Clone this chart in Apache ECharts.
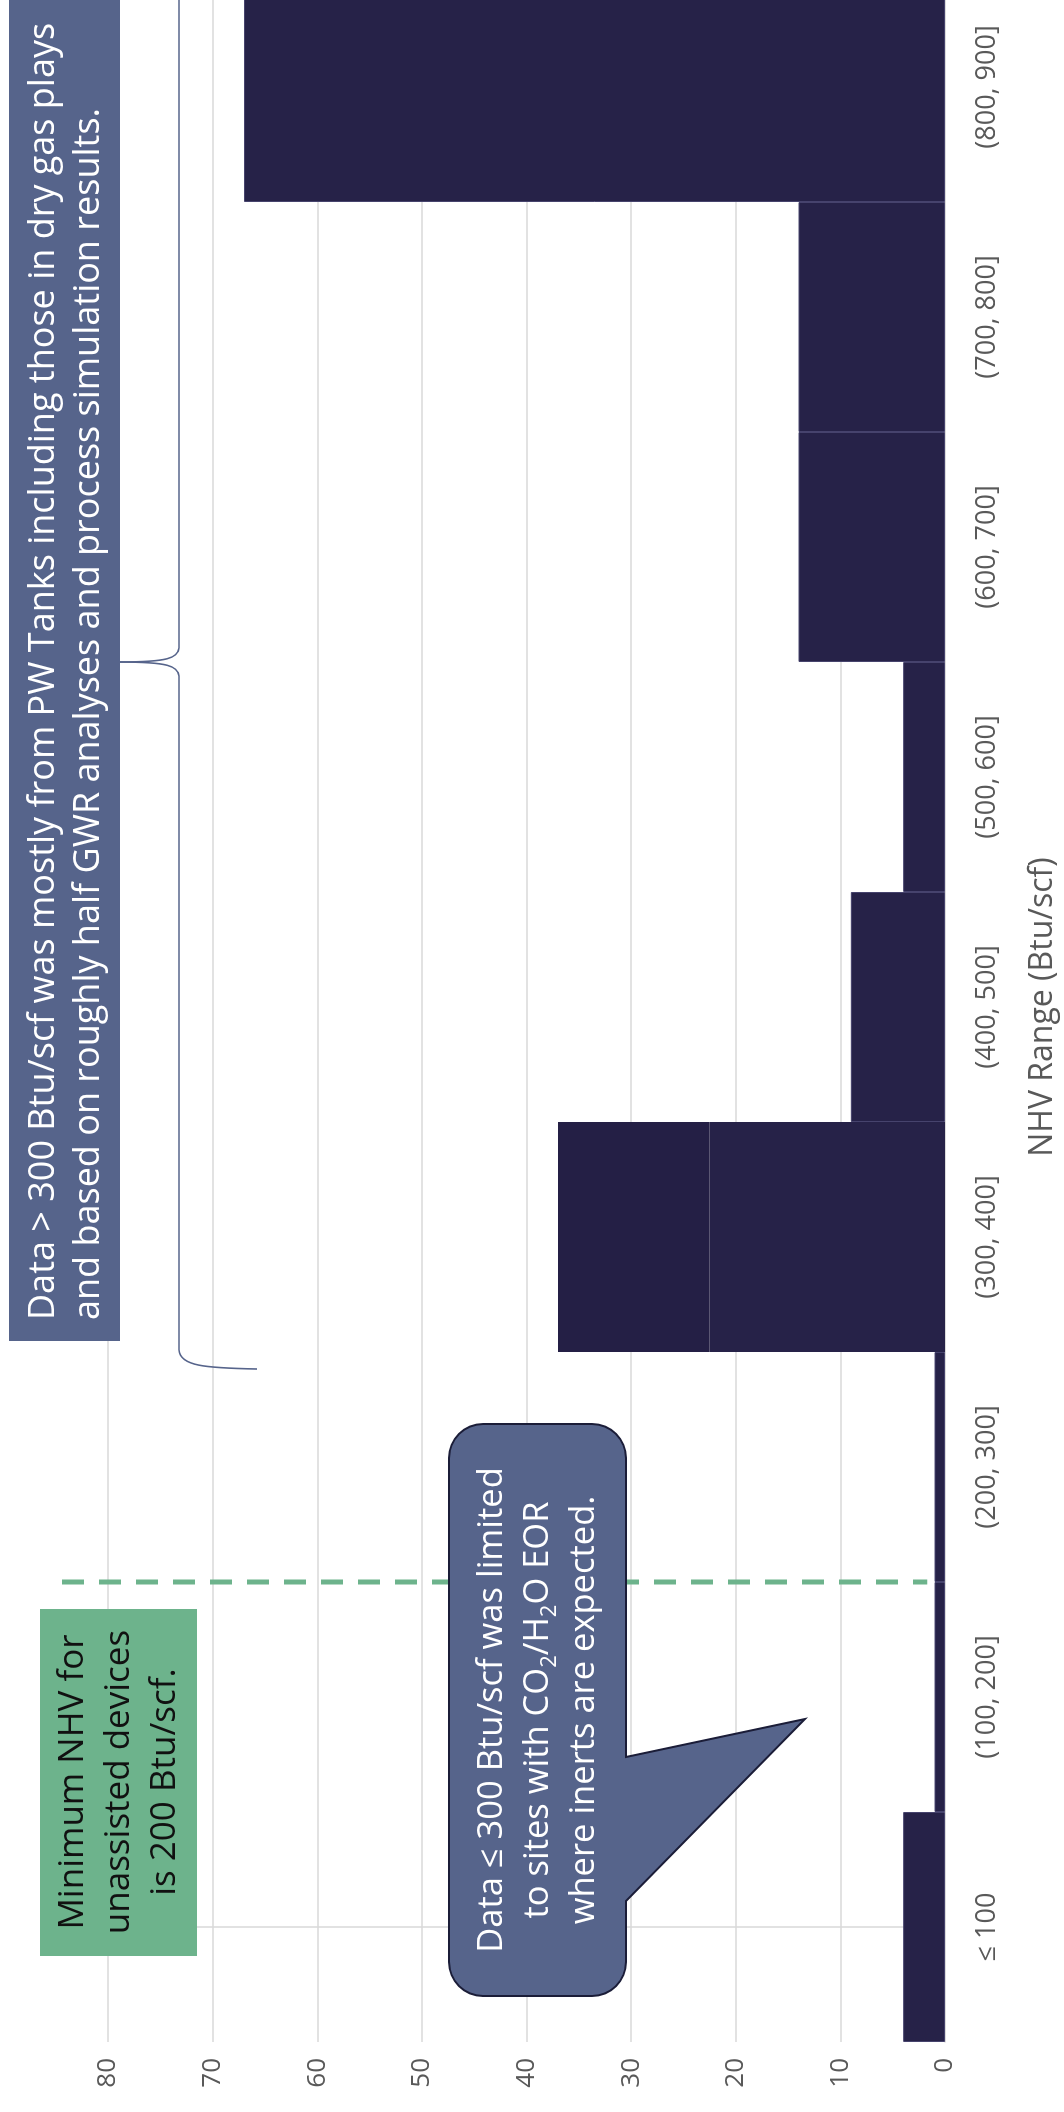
<!DOCTYPE html>
<html>
<head>
<meta charset="utf-8">
<title>NHV Range</title>
<script src="https://cdn.jsdelivr.net/npm/echarts@6/dist/echarts.min.js"></script>
<style>
  html, body { margin: 0; padding: 0; background: #fff; width: 1064px; height: 2112px; overflow: hidden; }
  /* chart is laid out landscape, then turned so it reads bottom-to-top.
     it is a bit wider than the page: the last bin runs off the top edge */
  #chart {
    position: absolute; left: 0; top: 0;
    width: 2140px; height: 1064px;
    transform-origin: 0 0;
    transform: translate(0, 2112px) rotate(-90deg);
  }
</style>
</head>
<body>
<div id="chart"></div>
<script>
// categories (NHV bins)
const categories = ['≤ 100', '(100, 200]', '(200, 300]', '(300, 400]', '(400, 500]',
  '(500, 600]', '(600, 700]', '(700, 800]', '(800, 900]'];
// bar heights, the (300, 400] bin has a second block on top
const countBase = [4, 1, 1, 22.5, 9, 4, 14, 14, 67];
const countExtra = [0, 0, 0, 14.5, 0, 0, 0, 0, 0];
// dashed "minimum NHV" line: sits on the boundary between bins 1 and 2
const minNhvX = [1.5, 1.5];
const minNhvY = [84.4, 1.7];
// value axis
const yMin = 0, yMax = 80, yStep = 10;

const FONT = '"Open Sans", Lato, sans-serif';
const GREY = '#595959';
const BAR = '#262248';
const NOTE = '#56648b';

const chart = echarts.init(document.getElementById('chart'));

// rounded box + pointer as one outline
function calloutPoints(x0, y0, x1, y1, r, tail) {
  const pts = [];
  const arc = (cx, cy, a0, a1) => {
    for (let k = 0; k <= 8; k++) {
      const a = a0 + (a1 - a0) * k / 8;
      pts.push([cx + r * Math.cos(a), cy + r * Math.sin(a)]);
    }
  };
  arc(x1 - r, y0 + r, -Math.PI / 2, 0);
  arc(x1 - r, y1 - r, 0, Math.PI / 2);
  tail.forEach(p => pts.push(p));
  arc(x0 + r, y1 - r, Math.PI / 2, Math.PI);
  arc(x0 + r, y0 + r, Math.PI, Math.PI * 1.5);
  return pts;
}
const calloutPts = calloutPoints(116, 449, 688, 626, 34, [[355, 626], [393, 805], [211, 626]]);

const braceStyle = { fill: null, stroke: NOTE, lineWidth: 1.6 };

chart.setOption({
  backgroundColor: '#fff',
  animation: false,
  grid: { left: 70, right: 0, top: 108, bottom: 118 },
  xAxis: [
    {
      type: 'category',
      data: categories,
      axisLine: { lineStyle: { color: '#d9d9d9', width: 1.5 } },
      axisTick: { show: false },
      axisLabel: { color: GREY, fontSize: 27, fontFamily: FONT, margin: 29 },
      name: 'NHV Range (Btu/scf)',
      nameLocation: 'middle',
      nameGap: 82,
      nameTextStyle: { color: GREY, fontSize: 32, fontFamily: FONT }
    },
    {
      // hidden helper axis to place the dashed line between two bins
      type: 'value', min: -0.5, max: 8.5, show: false, position: 'top'
    }
  ],
  yAxis: {
    type: 'value',
    min: yMin, max: yMax, interval: yStep,
    axisLine: { show: true, lineStyle: { color: '#d9d9d9', width: 1.5 } },
    axisTick: { show: false },
    axisLabel: { color: GREY, fontSize: 26, fontFamily: FONT, margin: 16 },
    splitLine: { lineStyle: { color: '#d9d9d9', width: 1.5 } }
  },
  series: [
    {
      type: 'bar',
      stack: 'n',
      barCategoryGap: '0%',
      itemStyle: { color: BAR, borderColor: '#46436d', borderWidth: 1 },
      data: countBase.map((v, i) => countExtra[i] ? { value: v, itemStyle: { borderWidth: 0 } } : v)
    },
    {
      type: 'bar',
      stack: 'n',
      barCategoryGap: '0%',
      itemStyle: { color: '#241f45' },
      data: countExtra
    },
    {
      type: 'line',
      xAxisIndex: 1,
      clip: false,
      symbol: 'none',
      z: 5,
      lineStyle: { color: '#6db38c', width: 5, type: [22, 15] },
      data: minNhvX.map((x, i) => [x, minNhvY[i]])
    }
  ],
  graphic: [
    // top note box
    {
      type: 'rect', z: 10,
      shape: { x: 771, y: 9, width: 1420, height: 111 },
      style: { fill: NOTE }
    },
    {
      type: 'text', z: 11, x: 792, y: 66,
      style: {
        text: 'Data > 300 Btu/scf was mostly from PW Tanks including those in dry gas plays\nand based on roughly half GWR analyses and process simulation results.',
        fill: '#fff', fontSize: 36, fontFamily: FONT, lineHeight: 45,
        align: 'left', verticalAlign: 'middle'
      }
    },
    // curly brace
    {
      type: 'bezierCurve', z: 10,
      shape: { x1: 743, y1: 257, cpx1: 744, cpy1: 205, cpx2: 746, cpy2: 180, x2: 762, y2: 179 },
      style: braceStyle
    },
    { type: 'line', z: 10, shape: { x1: 762, y1: 179, x2: 1436, y2: 179 }, style: braceStyle },
    {
      type: 'bezierCurve', z: 10,
      shape: { x1: 1436, y1: 179, cpx1: 1446, cpy1: 178, cpx2: 1450, cpy2: 168, x2: 1450, y2: 120 },
      style: braceStyle
    },
    {
      type: 'bezierCurve', z: 10,
      shape: { x1: 1450, y1: 120, cpx1: 1450, cpy1: 168, cpx2: 1454, cpy2: 178, x2: 1464, y2: 179 },
      style: braceStyle
    },
    { type: 'line', z: 10, shape: { x1: 1464, y1: 179, x2: 2200, y2: 179 }, style: braceStyle },
    // green note
    {
      type: 'rect', z: 10,
      shape: { x: 156, y: 40, width: 347, height: 157 },
      style: { fill: '#6db38c' }
    },
    {
      type: 'text', z: 11, x: 330, y: 119,
      style: {
        text: 'Minimum NHV for\nunassisted devices\nis 200 Btu/scf.',
        fill: '#111', fontSize: 35, fontFamily: FONT, lineHeight: 46,
        align: 'center', verticalAlign: 'middle'
      }
    },
    // callout for the <= 300 bins
    {
      type: 'polygon', z: 10,
      shape: { points: calloutPts },
      style: { fill: NOTE, stroke: '#1b1d38', lineWidth: 2 }
    },
    {
      type: 'text', z: 11, x: 402, y: 538,
      style: {
        text: 'Data ≤ 300 Btu/scf was limited\nto sites with CO{sub|2}/H{sub|2}O EOR\nwhere inerts are expected.',
        fill: '#fff', fontSize: 34.5, fontFamily: FONT, lineHeight: 46,
        align: 'center', verticalAlign: 'middle',
        rich: {
          sub: { fontSize: 22, fontFamily: FONT, fill: '#fff', verticalAlign: 'bottom', lineHeight: 22 }
        }
      }
    }
  ]
});
</script>
</body>
</html>
